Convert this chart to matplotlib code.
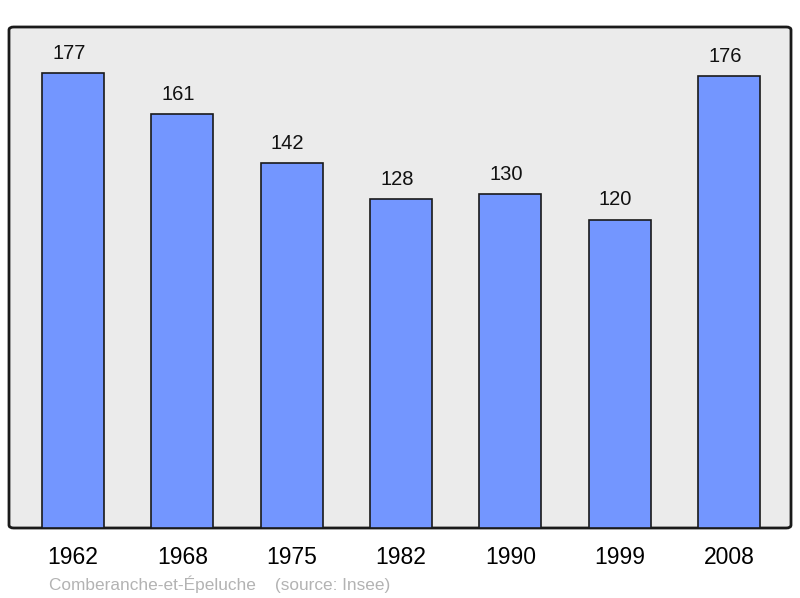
import matplotlib
matplotlib.use("Agg")
import matplotlib.pyplot as plt
from matplotlib.patches import FancyBboxPatch

years = ["1962", "1968", "1975", "1982", "1990", "1999", "2008"]
population = [177, 161, 142, 128, 130, 120, 176]

plt.rcParams['font.family'] = ['Liberation Sans', 'DejaVu Sans']

fig = plt.figure(figsize=(8, 5.98), dpi=100)
ax = fig.add_axes([9/800, 1-528/598, 782/800, 501/598])
ax.set_facecolor('none')
ax.set_xlim(-0.585, 6.565)
ax.set_ylim(0, 501/2.57)

frame = FancyBboxPatch((0, 0), 1, 1, boxstyle="round,pad=0,rounding_size=0.006",
                       transform=ax.transAxes, facecolor='#ebebeb', edgecolor='#1a1a1a',
                       linewidth=2, zorder=0, clip_on=False)
ax.add_patch(frame)

x = list(range(len(years)))
ax.bar(x, population, width=62/109.4, color='#7396ff', edgecolor='#1a1a1a', linewidth=1.2, zorder=2)
for xi, v in zip(x, population):
    ax.annotate(str(v), (xi, v), xytext=(-3, 7.3), textcoords='offset points',
                ha='center', va='bottom', fontsize=14.5, color='#111111')

for s in ax.spines.values():
    s.set_visible(False)
ax.set_yticks([])
ax.set_xticks(x)
ax.set_xticklabels(years, fontsize=16.5)
ax.tick_params(axis='x', length=0, pad=13)

fig.text(49/800, 1-584/598, "Comberanche-et-Épeluche    (source: Insee)", fontsize=12.4,
         color='#b3b3b3', ha='left', va='center')

fig.savefig("out.png", dpi=100)
